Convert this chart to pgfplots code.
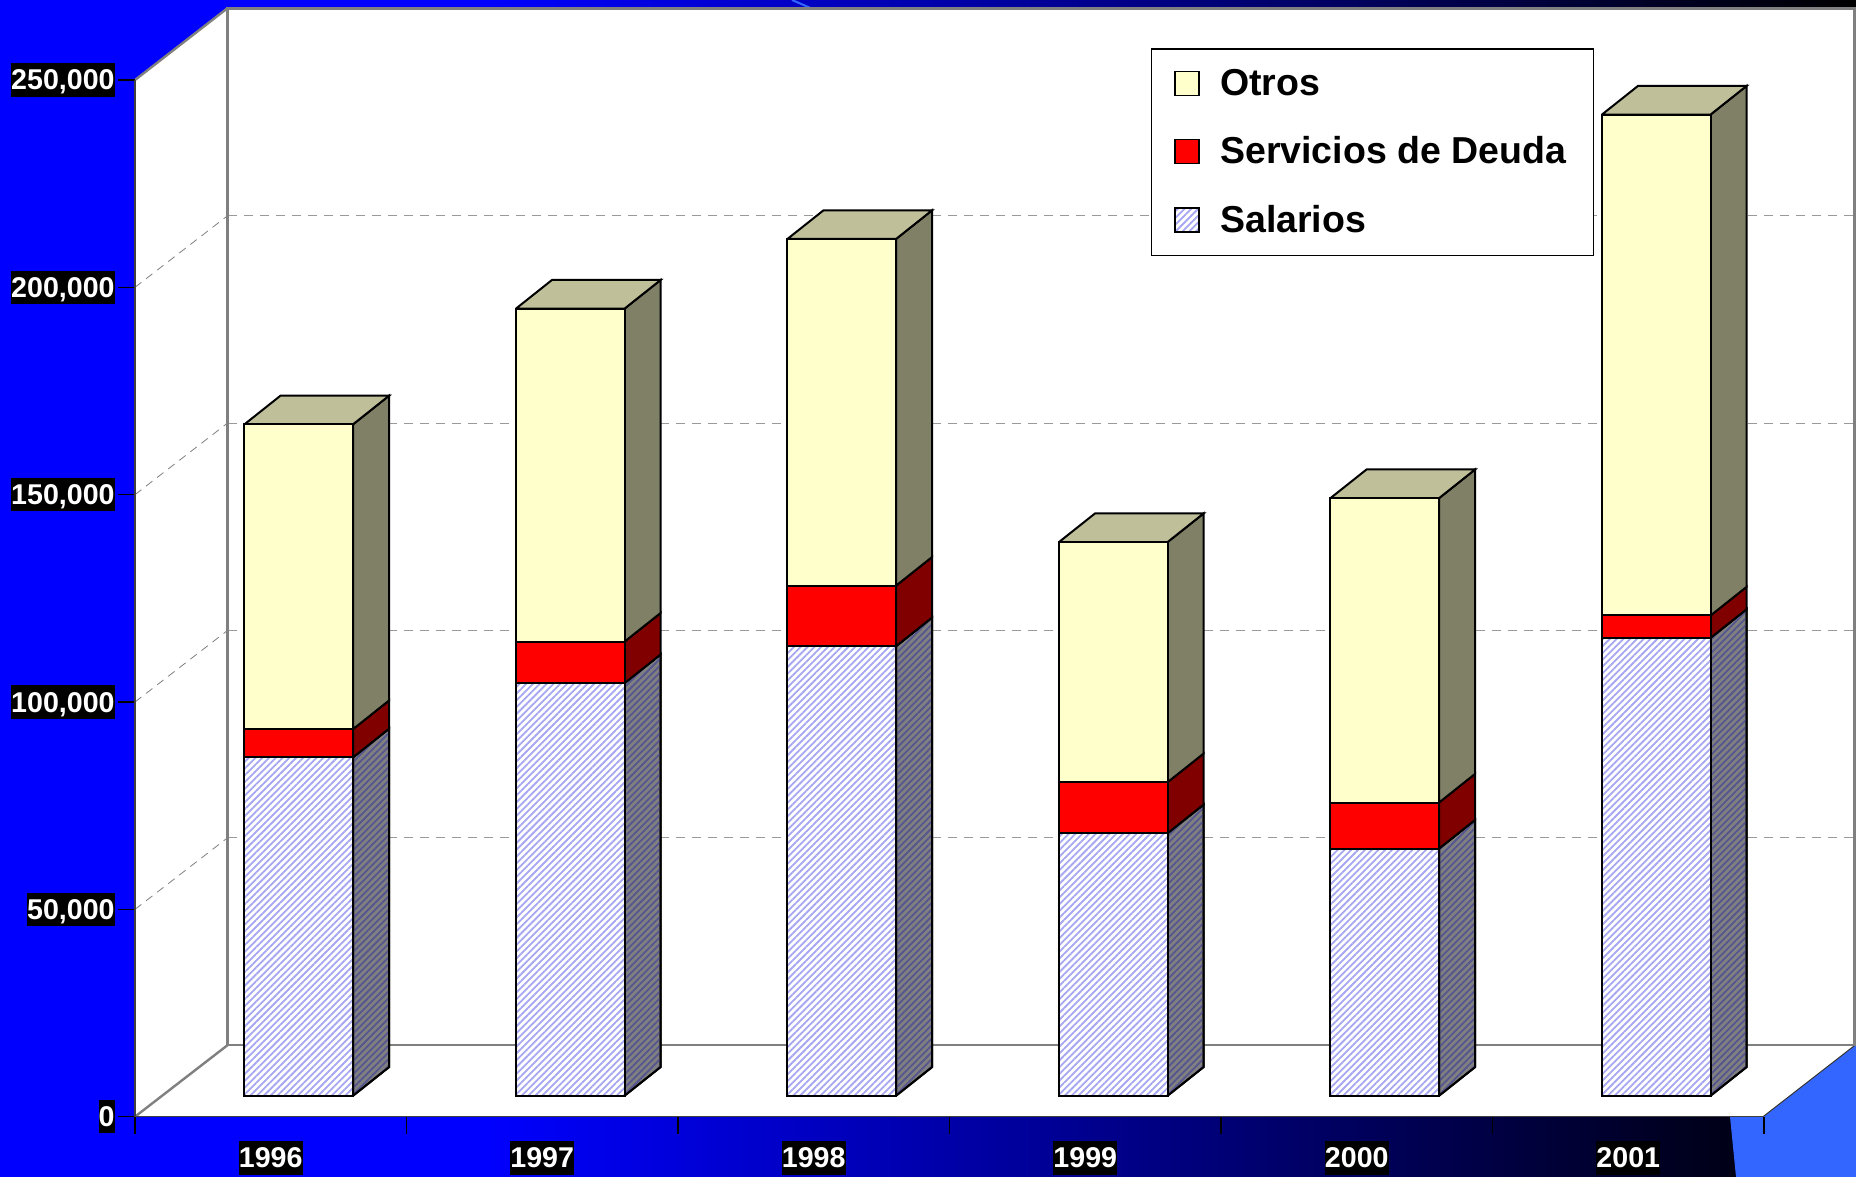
\documentclass[border=0pt]{standalone}
\usepackage{fontspec}
\setmainfont{Liberation Sans}
\usepackage{pgfplots}
\usepackage{pgfplotstable}
\pgfplotsset{compat=1.18}
\usetikzlibrary{patterns.meta}

\definecolor{otros}{HTML}{FFFFCC}
\definecolor{otrostop}{HTML}{BFBF99}
\definecolor{otrosside}{HTML}{808066}
\definecolor{deudaside}{HTML}{800000}
\definecolor{hatch}{HTML}{A6A6F2}
\definecolor{hatchdark}{HTML}{55558F}
\definecolor{bandblue}{HTML}{3366FF}
\definecolor{wallgray}{HTML}{808080}

\pgfdeclarehorizontalshading{slidebg}{100bp}{color(0bp)=(blue); color(38bp)=(blue); color(75bp)=(black); color(100bp)=(black)}

% one picture pixel is 0.5pt; bars start in front of the back wall
\tikzset{
  tickbox/.style={fill=black,text=white,inner sep=0pt,text height=13.3pt,text depth=3.3pt,
    font=\fontsize{14.3}{14.3}\selectfont\bfseries},
  hatched/.style={fill=white,postaction={pattern={Lines[angle=45,distance=2.4pt,line width=.9pt]},pattern color=hatch}},
}
\pgfplotsset{
  chartbox/.style={scale only axis,width=814.5pt,height=518.35pt,
    xmin=0,xmax=6,ymin=0,ymax=250000,clip=false},
  swatch/.style={legend image code/.code={\draw[##1,line width=.9pt] (9.7pt,-6pt) rectangle (21.7pt,6pt);}},
}

\pgfplotstableread{
x    salarios servicios otros
0.5  81600    6800      73500
1.5  99500    10000     80300
2.5  108400   14600     83600
3.5  63300    12300     57900
4.5  59600    11100     73400
5.5  110400   5400      120800
}\spending

% side and top faces of one column: position, then the three amounts in thousands
\newcommand{\depthfaces}[4]{%
  \pgfmathsetmacro\xa{#1+0.2}%
  \pgfmathsetmacro\xb{#1+0.333}%
  \pgfmathsetmacro\xl{#1-0.2}%
  \pgfmathsetmacro\xc{#1-0.067}%
  \pgfmathsetmacro\ya{#2}%
  \pgfmathsetmacro\yb{#2+#3}%
  \pgfmathsetmacro\yc{#2+#3+#4}%
  \pgfmathsetmacro\yA{#2+6.921}%
  \pgfmathsetmacro\yB{#2+#3+6.921}%
  \pgfmathsetmacro\yC{#2+#3+#4+6.921}%
  \addplot[fill=wallgray,draw=black,line width=1pt,postaction={pattern={Lines[angle=45,distance=2.4pt,line width=.9pt]},pattern color=hatchdark}]
    coordinates {(\xa,0) (\xb,6.921) (\xb,\yA) (\xa,\ya) (\xa,0)};
  \addplot[fill=deudaside,draw=black,line width=1pt] coordinates {(\xa,\ya) (\xb,\yA) (\xb,\yB) (\xa,\yb) (\xa,\ya)};
  \addplot[fill=otrosside,draw=black,line width=1pt] coordinates {(\xa,\yb) (\xb,\yB) (\xb,\yC) (\xa,\yc) (\xa,\yb)};
  \addplot[fill=otrostop,draw=black,line width=1pt] coordinates {(\xl,\yc) (\xa,\yc) (\xb,\yC) (\xc,\yC) (\xl,\yc)};
}

\begin{document}
\begin{tikzpicture}[x=0.5pt,y=0.5pt]
  % slide background, coordinates are pixels from the axis origin
  \path[use as bounding box] (-135,-59.5) rectangle (1721,1116.7);
  \shade[shading=slidebg] (-135,-60.3) rectangle (1721,1116.7);
  \fill[bandblue] (1595,0) -- (1601,-60.3) -- (1721,-60.3) -- (1721,80) -- (1628,0) -- cycle;
  \draw[bandblue,line width=1pt] (657,1116.7) -- (677,1108);
  % walls and floor
  \fill[white] (0,0) -- (0,1036.7) -- (92.5,1108.5) -- (1720,1108.5) -- (1720,71.5) -- (1628,0) -- cycle;
  \draw[wallgray,line width=1.2pt] (0,1036.7) -- (92.5,1108.5);
  \draw[wallgray,line width=1.2pt] (0,0) -- (92.5,71.5);
  \draw[black!80,line width=.5pt] (1628,0) -- (1720,71.5);
  \foreach \v in {50,100,150,200}
    \draw[wallgray,line width=.4pt,dash pattern=on 4pt off 3pt] (0,\v*4.147) -- (92.5,\v*4.147+71.5);

  % back wall with the grid
  \begin{axis}[chartbox,at={(46.25pt,35.75pt)},width=813.5pt,
      axis line style={wallgray,line width=1.2pt},
      xtick=\empty,ytick={50000,100000,150000,200000},yticklabels={},
      scaled y ticks=false,
      major tick length=0pt,ymajorgrids,
      grid style={wallgray!80,line width=.5pt,dash pattern=on 4.5pt off 3.5pt}]
  \end{axis}

  % front edges, ticks and labels
  \begin{axis}[chartbox,
      axis x line*=bottom,axis y line*=left,
      axis line style={-,black!75,line width=.8pt},
      tick align=outside,tick style={black,line width=.6pt},major tick length=8.5pt,
      ytick={0,50000,100000,150000,200000,250000},
      yticklabels={0,{50,000},{100,000},{150,000},{200,000},{250,000}},
      scaled y ticks=false,
      yticklabel shift=1.5pt,
      yticklabel style={tickbox},
      xtick={0,1,2,3,4,5,6},xticklabels={},
      extra x ticks={0.5,1.5,2.5,3.5,4.5,5.5},
      extra x tick labels={1996,1997,1998,1999,2000,2001},
      extra x tick style={tick style={draw=none},major tick length=0pt,
        xticklabel shift=12.15pt,xticklabel style={tickbox}}]
  \end{axis}

  % depth faces of the columns, this axis counts in thousands
  \begin{axis}[chartbox,at={(14pt,10.5pt)},hide axis,ymax=250]
    \depthfaces{0.5}{81.6}{6.8}{73.5}
    \depthfaces{1.5}{99.5}{10}{80.3}
    \depthfaces{2.5}{108.4}{14.6}{83.6}
    \depthfaces{3.5}{63.3}{12.3}{57.9}
    \depthfaces{4.5}{59.6}{11.1}{73.4}
    \depthfaces{5.5}{110.4}{5.4}{120.8}
  \end{axis}

  % front faces and the legend
  \begin{axis}[chartbox,at={(14pt,10.5pt)},hide axis,
      ybar stacked,bar width=54.35pt,
      legend cell align=left,reverse legend,
      legend style={at={(0.6064,1.0103)},anchor=north west,draw=black,fill=white,line width=.6pt,
        font=\fontsize{18.75}{18.75}\selectfont\bfseries,
        inner xsep=11.5pt,inner ysep=8pt,row sep=15.2pt,
        /tikz/every odd column/.append style={column sep=8pt}}]
    \addplot[hatched,draw=black,line width=1pt,swatch] table[x=x,y=salarios] {\spending};
    \addplot[fill=red,draw=black,line width=1pt,swatch] table[x=x,y=servicios] {\spending};
    \addplot[fill=otros,draw=black,line width=1pt,swatch] table[x=x,y=otros] {\spending};
    \legend{Salarios,Servicios de Deuda,Otros}
  \end{axis}
\end{tikzpicture}
\end{document}
